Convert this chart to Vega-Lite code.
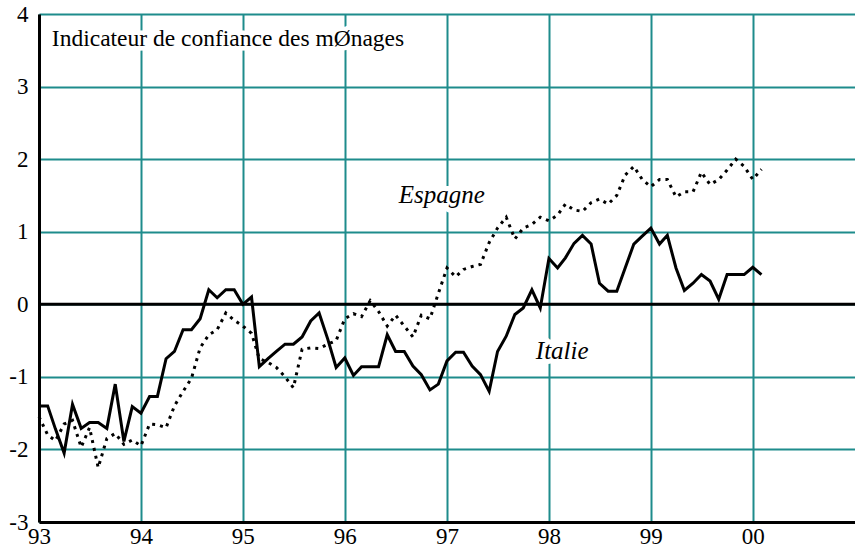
{
  "$schema": "https://vega.github.io/schema/vega-lite/v6.json",
  "width": 816,
  "height": 508,
  "autosize": {"type": "none"},
  "padding": {"left": 39, "top": 14, "right": 0, "bottom": 29},
  "background": "white",
  "config": {
    "view": {"stroke": null},
    "font": "'Liberation Serif', serif",
    "axis": {
      "title": null,
      "domainColor": "black",
      "domainWidth": 3,
      "ticks": false,
      "labelFont": "'Liberation Serif', serif",
      "labelFontSize": 23,
      "labelColor": "black",
      "labelFlush": false,
      "labelOverlap": false,
      "grid": true,
      "gridColor": "#1e8c8c",
      "gridWidth": 2,
      "gridOpacity": 1
    }
  },
  "datasets": {
    "series": [
      {"d": "1993-01-01", "it": -1.4, "es": -1.55},
      {"d": "1993-02-01", "it": -1.4, "es": -1.8},
      {"d": "1993-03-01", "it": -1.72, "es": -1.88},
      {"d": "1993-04-01", "it": -2.05, "es": -1.65},
      {"d": "1993-05-01", "it": -1.38, "es": -1.6},
      {"d": "1993-06-01", "it": -1.71, "es": -1.97},
      {"d": "1993-07-01", "it": -1.63, "es": -1.7},
      {"d": "1993-08-01", "it": -1.63, "es": -2.25},
      {"d": "1993-09-01", "it": -1.71, "es": -1.85},
      {"d": "1993-10-01", "it": -1.1, "es": -1.78},
      {"d": "1993-11-01", "it": -1.89, "es": -1.93},
      {"d": "1993-12-01", "it": -1.41, "es": -1.87},
      {"d": "1994-01-01", "it": -1.5, "es": -1.95},
      {"d": "1994-02-01", "it": -1.27, "es": -1.65},
      {"d": "1994-03-01", "it": -1.27, "es": -1.66},
      {"d": "1994-04-01", "it": -0.75, "es": -1.7},
      {"d": "1994-05-01", "it": -0.65, "es": -1.4},
      {"d": "1994-06-01", "it": -0.35, "es": -1.2},
      {"d": "1994-07-01", "it": -0.35, "es": -1.02},
      {"d": "1994-08-01", "it": -0.2, "es": -0.6},
      {"d": "1994-09-01", "it": 0.2, "es": -0.42},
      {"d": "1994-10-01", "it": 0.09, "es": -0.35},
      {"d": "1994-11-01", "it": 0.2, "es": -0.12},
      {"d": "1994-12-01", "it": 0.2, "es": -0.22},
      {"d": "1995-01-01", "it": 0.0, "es": -0.3},
      {"d": "1995-02-01", "it": 0.1, "es": -0.4},
      {"d": "1995-03-01", "it": -0.86, "es": -0.75},
      {"d": "1995-04-01", "it": -0.75, "es": -0.8},
      {"d": "1995-05-01", "it": -0.65, "es": -0.87},
      {"d": "1995-06-01", "it": -0.55, "es": -1.0},
      {"d": "1995-07-01", "it": -0.55, "es": -1.15},
      {"d": "1995-08-01", "it": -0.45, "es": -0.62},
      {"d": "1995-09-01", "it": -0.23, "es": -0.6},
      {"d": "1995-10-01", "it": -0.12, "es": -0.61},
      {"d": "1995-11-01", "it": -0.48, "es": -0.55},
      {"d": "1995-12-01", "it": -0.87, "es": -0.5},
      {"d": "1996-01-01", "it": -0.74, "es": -0.2},
      {"d": "1996-02-01", "it": -0.98, "es": -0.13},
      {"d": "1996-03-01", "it": -0.86, "es": -0.17},
      {"d": "1996-04-01", "it": -0.86, "es": 0.05},
      {"d": "1996-05-01", "it": -0.86, "es": -0.1},
      {"d": "1996-06-01", "it": -0.42, "es": -0.3},
      {"d": "1996-07-01", "it": -0.65, "es": -0.15},
      {"d": "1996-08-01", "it": -0.65, "es": -0.3},
      {"d": "1996-09-01", "it": -0.85, "es": -0.45},
      {"d": "1996-10-01", "it": -0.97, "es": -0.15},
      {"d": "1996-11-01", "it": -1.18, "es": -0.2},
      {"d": "1996-12-01", "it": -1.1, "es": 0.15},
      {"d": "1997-01-01", "it": -0.78, "es": 0.5},
      {"d": "1997-02-01", "it": -0.66, "es": 0.38},
      {"d": "1997-03-01", "it": -0.66, "es": 0.48},
      {"d": "1997-04-01", "it": -0.85, "es": 0.52},
      {"d": "1997-05-01", "it": -0.97, "es": 0.55},
      {"d": "1997-06-01", "it": -1.2, "es": 0.85},
      {"d": "1997-07-01", "it": -0.65, "es": 1.05},
      {"d": "1997-08-01", "it": -0.44, "es": 1.2},
      {"d": "1997-09-01", "it": -0.14, "es": 0.9},
      {"d": "1997-10-01", "it": -0.05, "es": 1.05},
      {"d": "1997-11-01", "it": 0.2, "es": 1.1},
      {"d": "1997-12-01", "it": -0.05, "es": 1.2},
      {"d": "1998-01-01", "it": 0.63, "es": 1.15},
      {"d": "1998-02-01", "it": 0.5, "es": 1.23},
      {"d": "1998-03-01", "it": 0.64, "es": 1.38},
      {"d": "1998-04-01", "it": 0.84, "es": 1.3},
      {"d": "1998-05-01", "it": 0.95, "es": 1.28},
      {"d": "1998-06-01", "it": 0.83, "es": 1.4},
      {"d": "1998-07-01", "it": 0.29, "es": 1.45},
      {"d": "1998-08-01", "it": 0.18, "es": 1.38},
      {"d": "1998-09-01", "it": 0.18, "es": 1.5},
      {"d": "1998-10-01", "it": 0.5, "es": 1.78},
      {"d": "1998-11-01", "it": 0.83, "es": 1.9},
      {"d": "1998-12-01", "it": 0.94, "es": 1.72},
      {"d": "1999-01-01", "it": 1.05, "es": 1.62},
      {"d": "1999-02-01", "it": 0.83, "es": 1.72},
      {"d": "1999-03-01", "it": 0.95, "es": 1.72},
      {"d": "1999-04-01", "it": 0.5, "es": 1.48},
      {"d": "1999-05-01", "it": 0.19, "es": 1.55},
      {"d": "1999-06-01", "it": 0.29, "es": 1.55},
      {"d": "1999-07-01", "it": 0.41, "es": 1.82},
      {"d": "1999-08-01", "it": 0.32, "es": 1.65},
      {"d": "1999-09-01", "it": 0.07, "es": 1.72},
      {"d": "1999-10-01", "it": 0.41, "es": 1.85},
      {"d": "1999-11-01", "it": 0.41, "es": 2.0},
      {"d": "1999-12-01", "it": 0.41, "es": 1.9},
      {"d": "2000-01-01", "it": 0.51, "es": 1.72},
      {"d": "2000-02-01", "it": 0.41, "es": 1.86}
    ],
    "titre": [
      {"d": "1993-02-16", "v": 3.56, "t": "Indicateur de confiance des mØnages"}
    ],
    "noms": [
      {"d": "1996-07-12", "v": 1.4, "t": "Espagne"},
      {"d": "1997-11-15", "v": -0.76, "t": "Italie"}
    ],
    "zero": [{"z": 0}]
  },
  "layer": [
    {
      "data": {"name": "series"},
      "mark": {"type": "line", "color": "black", "strokeWidth": 3, "strokeDash": [3, 5]},
      "encoding": {
        "x": {
          "field": "d",
          "type": "temporal",
          "title": null,
          "scale": {
            "type": "utc",
            "domain": [
              {"year": 1993, "month": 1, "date": 1, "utc": true},
              {"year": 2001, "month": 1, "date": 1, "utc": true}
            ]
          },
          "axis": {
            "values": [
              {"year": 1993, "month": 1, "date": 1, "utc": true},
              {"year": 1994, "month": 1, "date": 1, "utc": true},
              {"year": 1995, "month": 1, "date": 1, "utc": true},
              {"year": 1996, "month": 1, "date": 1, "utc": true},
              {"year": 1997, "month": 1, "date": 1, "utc": true},
              {"year": 1998, "month": 1, "date": 1, "utc": true},
              {"year": 1999, "month": 1, "date": 1, "utc": true},
              {"year": 2000, "month": 1, "date": 1, "utc": true}
            ],
            "labelExpr": "utcFormat(datum.value, '%y')",
            "labelPadding": 3
          }
        },
        "y": {
          "field": "es",
          "type": "quantitative",
          "title": null,
          "scale": {"domain": [-3, 4], "nice": false, "zero": false},
          "axis": {
            "values": [-3, -2, -1, 0, 1, 2, 3, 4],
            "labelExpr": "'' + datum.value",
            "labelPadding": 11
          }
        }
      }
    },
    {
      "data": {"name": "series"},
      "mark": {"type": "line", "color": "black", "strokeWidth": 3},
      "encoding": {
        "x": {"field": "d", "type": "temporal", "title": null},
        "y": {"field": "it", "type": "quantitative", "title": null}
      }
    },
    {
      "data": {"name": "zero"},
      "mark": {"type": "rule", "color": "black", "strokeWidth": 3},
      "encoding": {
        "y": {"field": "z", "type": "quantitative", "title": null}
      }
    },
    {
      "data": {"name": "titre"},
      "mark": {"type": "text", "align": "left", "baseline": "alphabetic", "font": "'Liberation Serif', serif", "fontSize": 23.5, "color": "white", "stroke": "white", "strokeWidth": 9, "strokeJoin": "round"},
      "encoding": {
        "x": {"field": "d", "type": "temporal", "title": null},
        "y": {"field": "v", "type": "quantitative", "title": null},
        "text": {"field": "t"}
      }
    },
    {
      "data": {"name": "titre"},
      "mark": {"type": "text", "align": "left", "baseline": "alphabetic", "font": "'Liberation Serif', serif", "fontSize": 23.5, "color": "black"},
      "encoding": {
        "x": {"field": "d", "type": "temporal", "title": null},
        "y": {"field": "v", "type": "quantitative", "title": null},
        "text": {"field": "t"}
      }
    },
    {
      "data": {"name": "noms"},
      "mark": {"type": "text", "align": "left", "baseline": "alphabetic", "font": "'Liberation Serif', serif", "fontSize": 25, "fontStyle": "italic", "color": "white", "stroke": "white", "strokeWidth": 10, "strokeJoin": "round"},
      "encoding": {
        "x": {"field": "d", "type": "temporal", "title": null},
        "y": {"field": "v", "type": "quantitative", "title": null},
        "text": {"field": "t"}
      }
    },
    {
      "data": {"name": "noms"},
      "mark": {"type": "text", "align": "left", "baseline": "alphabetic", "font": "'Liberation Serif', serif", "fontSize": 25, "fontStyle": "italic", "color": "black"},
      "encoding": {
        "x": {"field": "d", "type": "temporal", "title": null},
        "y": {"field": "v", "type": "quantitative", "title": null},
        "text": {"field": "t"}
      }
    }
  ]
}
